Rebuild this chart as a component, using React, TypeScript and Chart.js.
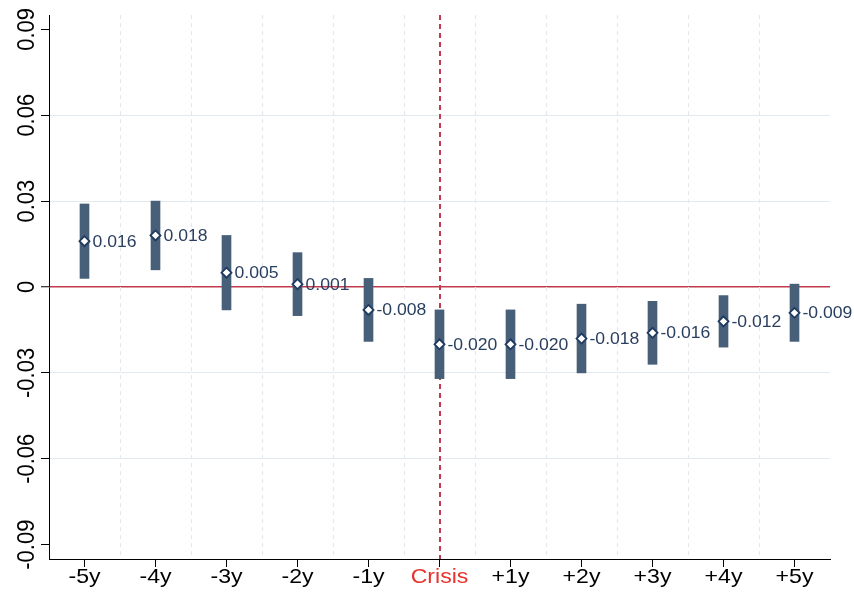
import React, { useEffect, useRef } from "react";
import { Chart, registerables } from "chart.js";

Chart.register(...registerables);

const categories = ["-5y", "-4y", "-3y", "-2y", "-1y", "Crisis", "+1y", "+2y", "+3y", "+4y", "+5y"];
const estimates = [0.016, 0.018, 0.005, 0.001, -0.008, -0.02, -0.02, -0.018, -0.016, -0.012, -0.009];
const ciLow = [0.003, 0.006, -0.008, -0.01, -0.019, -0.032, -0.032, -0.03, -0.027, -0.021, -0.019];
const ciHigh = [0.029, 0.03, 0.018, 0.012, 0.003, -0.008, -0.008, -0.006, -0.005, -0.003, 0.001];
const yTickValues = [0.09, 0.06, 0.03, 0, -0.03, -0.06, -0.09];
const yTickLabels = ["0.09", "0.06", "0.03", "0", "-0.03", "-0.06", "-0.09"];
const eventLabel = "Crisis";

const BAR_COLOR = "#475f78";
const MARKER_BORDER = "#1f3a60";
const LABEL_COLOR = "#2a3f60";
const RED_LINE = "#c23a4d";
const RED_TEXT = "#e8322d";
const GRID_COLOR = "#e2e9ef";
const FONT = "'Liberation Sans', Arial, Helvetica, sans-serif";
const STRETCH = 1.1;

const customPlugin = {
  id: "customDraw",
  beforeDatasetsDraw(chart: any) {
    const { ctx, chartArea } = chart;
    const xs = chart.scales.x;
    ctx.save();
    ctx.strokeStyle = GRID_COLOR;
    ctx.lineWidth = 1.2;
    ctx.setLineDash([4, 4]);
    for (let i = 0; i < categories.length - 1; i++) {
      const x = Math.round((xs.getPixelForValue(i) + xs.getPixelForValue(i + 1)) / 2) + 0.5;
      ctx.beginPath();
      ctx.moveTo(x, chartArea.top);
      ctx.lineTo(x, chartArea.bottom);
      ctx.stroke();
    }
    const ci = categories.indexOf(eventLabel);
    const xe = Math.round(xs.getPixelForValue(ci));
    ctx.strokeStyle = RED_LINE;
    ctx.lineWidth = 2;
    ctx.setLineDash([5, 4]);
    ctx.beginPath();
    ctx.moveTo(xe, chartArea.top);
    ctx.lineTo(xe, chartArea.bottom);
    ctx.stroke();
    ctx.restore();
  },
  afterDatasetsDraw(chart: any) {
    const { ctx, chartArea } = chart;
    const xs = chart.scales.x;
    const ys = chart.scales.y;
    ctx.save();
    ctx.fillStyle = LABEL_COLOR;
    ctx.font = `16px ${FONT}`;
    ctx.textAlign = "left";
    ctx.textBaseline = "middle";
    estimates.forEach((v, i) => {
      const x = xs.getPixelForValue(i) + 8;
      const y = ys.getPixelForValue(v) + 1;
      ctx.save();
      ctx.translate(x, y);
      ctx.scale(STRETCH, 1);
      ctx.fillText(v.toFixed(3), 0, 0);
      ctx.restore();
    });
    ctx.font = `21px ${FONT}`;
    ctx.textAlign = "center";
    ctx.textBaseline = "alphabetic";
    categories.forEach((c, i) => {
      const x = xs.getPixelForValue(i);
      ctx.save();
      ctx.fillStyle = c === eventLabel ? RED_TEXT : "#000";
      ctx.translate(x, chartArea.bottom + 24);
      ctx.scale(STRETCH, 1);
      ctx.fillText(c, 0, 0);
      ctx.restore();
    });
    ctx.font = `22px ${FONT}`;
    ctx.fillStyle = "#000";
    ctx.textAlign = "center";
    ctx.textBaseline = "middle";
    yTickValues.forEach((v, i) => {
      const y = ys.getPixelForValue(v);
      ctx.save();
      ctx.translate(chartArea.left - 23, y);
      ctx.scale(STRETCH, 1);
      ctx.rotate(-Math.PI / 2);
      ctx.fillText(yTickLabels[i], 0, 1);
      ctx.restore();
    });
    ctx.restore();
  },
};

export default function App() {
  const ref = useRef<HTMLCanvasElement | null>(null);
  useEffect(() => {
    document.body.style.margin = "0";
    document.documentElement.style.overflow = "hidden";
    if (!ref.current) return;
    const chart = new Chart(ref.current, {
      type: "bar",
      data: {
        labels: categories,
        datasets: [
          {
            type: "line",
            label: "Estimate",
            data: estimates,
            showLine: false,
            pointStyle: "rectRot",
            pointRadius: 5,
            pointBackgroundColor: "#ffffff",
            pointBorderColor: MARKER_BORDER,
            pointBorderWidth: 1.8,
            order: 0,
          } as any,
          {
            type: "bar",
            label: "CI",
            data: ciLow.map((lo, i) => [lo, ciHigh[i]]),
            backgroundColor: BAR_COLOR,
            borderWidth: 0,
            borderSkipped: false,
            barThickness: 9,
            order: 1,
          } as any,
        ],
      },
      options: {
        animation: false,
        responsive: false,
        maintainAspectRatio: false,
        layout: { padding: { top: 15, right: 24, left: 0, bottom: 0 } },
        plugins: { legend: { display: false }, tooltip: { enabled: false } },
        scales: {
          x: {
            type: "category",
            offset: true,
            grid: {
              offset: false,
              drawOnChartArea: false,
              drawTicks: true,
              tickLength: 8,
              tickColor: "#000",
              tickWidth: 1,
            },
            border: { display: true, color: "#000", width: 1 },
            ticks: { display: false },
            afterFit: (s: any) => {
              s.height = 40;
            },
          },
          y: {
            min: -0.095,
            max: 0.095,
            afterBuildTicks: (s: any) => {
              s.ticks = yTickValues.map((v) => ({ value: v }));
            },
            grid: {
              drawTicks: true,
              tickLength: 8,
              tickColor: "#000",
              tickWidth: 1,
              color: (c: any) => {
                const v = c.tick ? c.tick.value : null;
                if (v === 0) return RED_LINE;
                if (v === null || Math.abs(Math.abs(v) - 0.09) < 1e-9) return "rgba(0,0,0,0)";
                return GRID_COLOR;
              },
              lineWidth: (c: any) => (c.tick && c.tick.value === 0 ? 1.5 : 1),
            },
            border: { display: true, color: "#000", width: 1 },
            ticks: { display: false },
            afterFit: (s: any) => {
              s.width = 49;
            },
          },
        },
      },
      plugins: [customPlugin],
    });
    return () => chart.destroy();
  }, []);
  return (
    <div style={{ width: 854, height: 599 }}>
      <canvas ref={ref} width={854} height={599} style={{ display: "block" }} />
    </div>
  );
}
